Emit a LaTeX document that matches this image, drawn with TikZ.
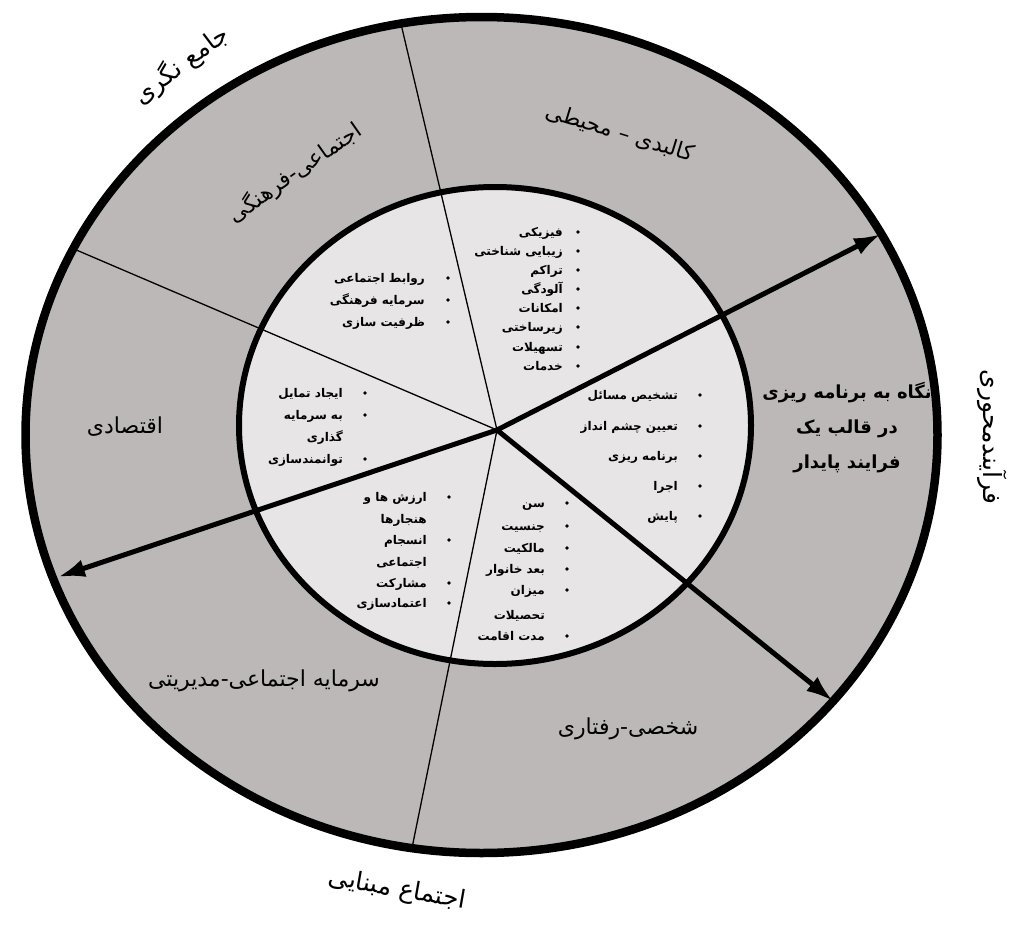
\documentclass[tikz,border=0pt]{standalone}
\usepackage{fontspec}
\usetikzlibrary{arrows.meta}
\TeXXeTstate=1
\newfontfamily\persfont[Script=Arabic]{DejaVu Sans}
\definecolor{ring}{RGB}{189,184,184}
\definecolor{core}{RGB}{231,229,230}
\begin{document}
\begin{tikzpicture}[x=1pt,y=-1pt,
  lbl/.style={font=\persfont\fontsize{22}{26}\selectfont, inner sep=0pt},
  outlbl/.style={font=\persfont\fontsize{25}{29}\selectfont, inner sep=0pt},
  proc/.style={font=\persfont\bfseries\fontsize{18}{35}\selectfont, inner sep=0pt, align=center},
  item/.style={font=\persfont\bfseries\fontsize{12}{14}\selectfont, anchor=base east, inner sep=0pt},
  bul/.style={circle, fill=black, inner sep=0pt, minimum size=3.8pt},
  thinline/.style={line width=1.3pt},
  spoke/.style={line width=5pt, -{Latex[length=27pt,width=18pt]}},
]
\useasboundingbox (0,0) rectangle (1023,929);
\coordinate (O) at (481.5,435);
\coordinate (I) at (495,425.5);
\coordinate (C) at (497,430);
\coordinate (T1) at (401,24);
\coordinate (T2) at (74,249);
\coordinate (T3) at (412,848);
\coordinate (A1) at (881,234);
\coordinate (A2) at (58,577);
\coordinate (A3) at (833,701);
% rings
\fill[ring] (O) ellipse [x radius=456pt, y radius=418pt];
\fill[core] (I) ellipse [x radius=256pt, y radius=238.5pt];
% thin separators
\draw[thinline] (C) -- (T1);
\draw[thinline] (C) -- (T2);
\draw[thinline] (C) -- (T3);
\draw[line width=6pt] (I) ellipse [x radius=256pt, y radius=238.5pt];
\draw[line width=8.5pt] (O) ellipse [x radius=456pt, y radius=418pt];
% thick arrows
\draw[spoke] (C) -- (A1);
\draw[spoke] (C) -- (A2);
\draw[spoke] (C) -- (A3);
% outer labels
\node[outlbl, rotate=37] (l1) at (181,65) {\beginR جامع نگری\endR};
\node[lbl, rotate=35] (l2) at (295,173) {\beginR اجتماعی-فرهنگی\endR};
\node[lbl, rotate=-17] (l3) at (620,133) {\beginR کالبدی – محیطی\endR};
\node[proc] (l4) at (847,428) {\beginR نگاه به برنامه ریزی\endR\\\beginR در قالب یک\endR\\\beginR فرایند پایدار\endR};
\node[lbl] (l5) at (628,729) {\beginR شخصی-رفتاری\endR};
\node[lbl] (l6) at (264,681) {\beginR سرمایه اجتماعی-مدیریتی\endR};
\node[lbl] (l7) at (125,427) {\beginR اقتصادی\endR};
\node[outlbl, rotate=-10] (l8) at (397,890) {\beginR اجتماع مبنایی\endR};
\node[outlbl, rotate=-90] (l9) at (992,437) {\beginR فرآیندمحوری\endR};
% list 1
\foreach \y/\t [count=\i] in {232/فیزیکی,251/زیبایی شناختی,270/تراکم,289/آلودگی,308/امکانات,327/زیرساختی,347/تسهیلات,366/خدمات}{
  \node[item] (a\i) at (563,\y+4) {\beginR\t\endR};
  \node[bul] (ab\i) at (578,\y) {};
}
% list 2
\foreach \y/\t [count=\i] in {278/روابط اجتماعی,300/سرمایه فرهنگی,322/ظرفیت سازی}{
  \node[item] (b\i) at (425,\y+4) {\beginR\t\endR};
  \node[bul] (bb\i) at (448,\y) {};
}
% list 3
\foreach \y/\t [count=\i] in {393/ایجاد تمایل,415/به سرمایه,437/گذاری,459/توانمندسازی}{
  \node[item] (c\i) at (343,\y+4) {\beginR\t\endR};
}
\foreach \y [count=\i] in {393,415,459}{ \node[bul] (cb\i) at (365,\y) {}; }
% list 4
\foreach \y/\t [count=\i] in {497/ارزش ها و,519/هنجارها,540/انسجام,562/اجتماعی,583/مشارکت,603/اعتمادسازی}{
  \node[item] (d\i) at (427,\y+4) {\beginR\t\endR};
}
\foreach \y [count=\i] in {497,540,583,603}{ \node[bul] (db\i) at (449,\y) {}; }
% list 5
\foreach \y/\t [count=\i] in {503/سن,526/جنسیت,548/مالکیت,569/بعد خانوار,590/میزان,615/تحصیلات,636/مدت اقامت}{
  \node[item] (e\i) at (545,\y+4) {\beginR\t\endR};
}
\foreach \y [count=\i] in {503,526,548,569,590,636}{ \node[bul] (eb\i) at (567,\y) {}; }
% list 6
\foreach \y/\t [count=\i] in {395/تشخیص مسائل,426/تعیین چشم انداز,456/برنامه ریزی,486/اجرا,516/پایش}{
  \node[item] (f\i) at (678,\y+4) {\beginR\t\endR};
  \node[bul] (fb\i) at (700,\y) {};
}
\end{tikzpicture}
\end{document}
